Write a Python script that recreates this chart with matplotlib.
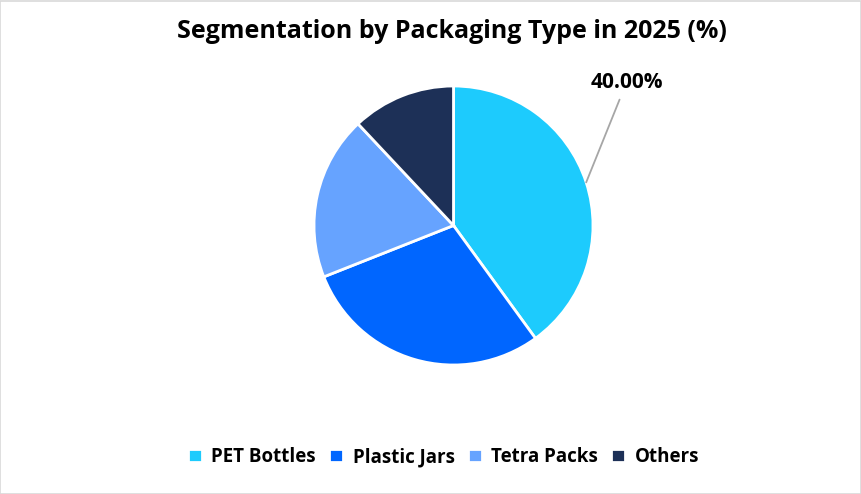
import numpy as np
import matplotlib
matplotlib.use('Agg')
import matplotlib.pyplot as plt
from matplotlib.patches import Rectangle

categories = ['PET Bottles', 'Plastic Jars', 'Tetra Packs', 'Others']
shares = [40, 29, 19, 12]
label_text = '40.00%'
title = 'Segmentation by Packaging Type in 2025 (%)'
colours = ['#1DCBFD', '#0066FF', '#66A3FF', '#1D3057']

plt.rcParams['font.family'] = ['Open Sans', 'DejaVu Sans']

W, H = 862, 494
fig = plt.figure(figsize=(W / 100, H / 100), dpi=100)

# thin grey frame round the whole chart
fig.patches.append(Rectangle((0.5 / W, 0.5 / H), 1 - 1.5 / W, 1 - 1.5 / H,
                             transform=fig.transFigure, fill=False,
                             edgecolor='#D9D9D9', linewidth=1.2))

cx, cy, r = 453.5, 225.5, 139.5
ax = fig.add_axes([(cx - r) / W, 1 - (cy + r) / H, 2 * r / W, 2 * r / H])
wedges, _ = ax.pie(shares, colors=colours, startangle=90, counterclock=False,
                   radius=1, wedgeprops=dict(edgecolor='white', linewidth=2))
ax.set_xlim(-1, 1)
ax.set_ylim(-1, 1)
ax.set_aspect('equal')
ax.axis('off')

w0 = wedges[0]
mid = np.deg2rad((w0.theta1 + w0.theta2) / 2)
start = (1.0 * np.cos(mid), 1.0 * np.sin(mid))
ax.annotate(label_text, xy=start, xytext=(1.24, 0.95),
            ha='center', va='bottom', fontsize=15, fontweight='bold',
            annotation_clip=False,
            arrowprops=dict(arrowstyle='-', color='#A6A6A6', lw=1.3,
                            shrinkA=3, shrinkB=0))

fig.text(452 / W, 1 - 32 / H, title, ha='center', va='center',
         fontsize=18, fontweight='bold')

fig.legend(wedges, categories, loc='center', bbox_to_anchor=(443.5 / W, 1 - 457 / H),
           ncol=4, frameon=False, handlelength=0.75, handleheight=0.75,
           handletextpad=0.5, columnspacing=0.7,
           prop=dict(size=13.5, weight='bold'))

fig.savefig('out.png', dpi=100)
